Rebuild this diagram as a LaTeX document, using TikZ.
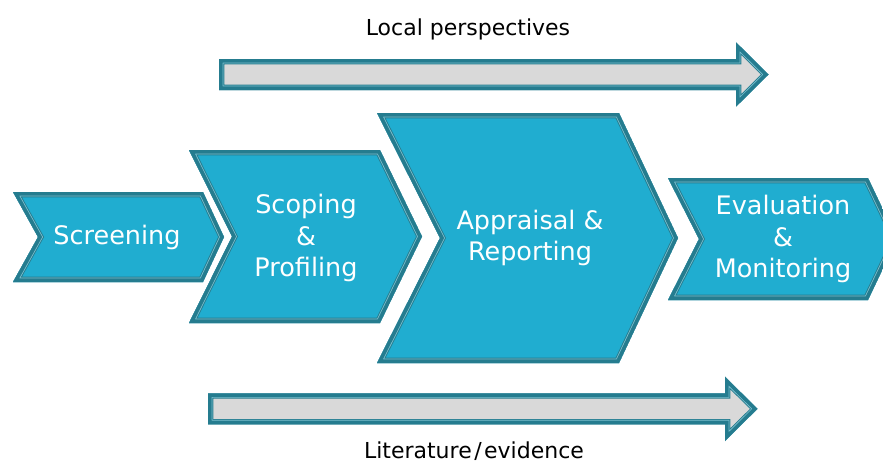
\documentclass[tikz,border=0pt]{standalone}
\usepackage{fontspec}
\setmainfont{DejaVu Sans}
\definecolor{bdark}{HTML}{257C8F}
\definecolor{blight}{HTML}{7CC0CF}
\definecolor{chevfill}{HTML}{20ADD0}
\definecolor{arrfill}{HTML}{D9D9D9}
\newcommand\borderedshape[2]{%
  \begin{scope}
    \clip #2;
    \fill[#1] #2;
    \draw[line width=10.6pt, bdark, line join=miter] #2;
    \draw[line width=8.8pt, blight, line join=miter] #2;
    \draw[line width=7.2pt, bdark, line join=miter] #2;
  \end{scope}}
\tikzset{
  steplabel/.style={text=white, align=center, inner sep=0pt,
    font=\fontsize{25.5}{31.5}\selectfont},
  sidelabel/.style={text=black, inner sep=0pt,
    font=\fontsize{22}{26}\selectfont}
}
\begin{document}
\begin{tikzpicture}[x=1pt, y=-1pt]
\useasboundingbox (0,0) rectangle (883,464);
% top arrow
\borderedshape{arrfill}{(219,59) -- (736,59) -- (736,42.3) -- (768.5,74.5) -- (736,106.7) -- (736,90) -- (219,90) -- cycle}
% bottom arrow
\borderedshape{arrfill}{(208,393.3) -- (725,393.3) -- (725,376.7) -- (757.5,408.8) -- (725,441) -- (725,424.3) -- (208,424.3) -- cycle}
% chevrons
\borderedshape{chevfill}{(13,192) -- (203,192) -- (224,237) -- (203,282) -- (13,282) -- (38,237) -- cycle}
\borderedshape{chevfill}{(189,150) -- (380,150) -- (422,236.5) -- (380,323) -- (189,323) -- (232,236.5) -- cycle}
\borderedshape{chevfill}{(377,113) -- (619,113) -- (678,238) -- (619,363) -- (377,363) -- (440,238) -- cycle}
\borderedshape{chevfill}{(668,178) -- (868,178) -- (897,239) -- (868,300) -- (668,300) -- (699,239) -- cycle}
% labels
\node[steplabel] (screening) at (117,237) {Screening};
\node[steplabel] (scoping) at (306,238) {Scoping\\\&\\Profiling};
\node[steplabel] (appraisal) at (530,238) {Appraisal \&\\Reporting};
\node[steplabel] (evaluation) at (783,239) {Evaluation\\\&\\Monitoring};
\node[sidelabel] (local) at (468,29) {Local perspectives};
\node[sidelabel] (literature) at (474,451.5) {Literature\kern2.5pt/\kern2.5pt evidence};
\end{tikzpicture}
\end{document}
